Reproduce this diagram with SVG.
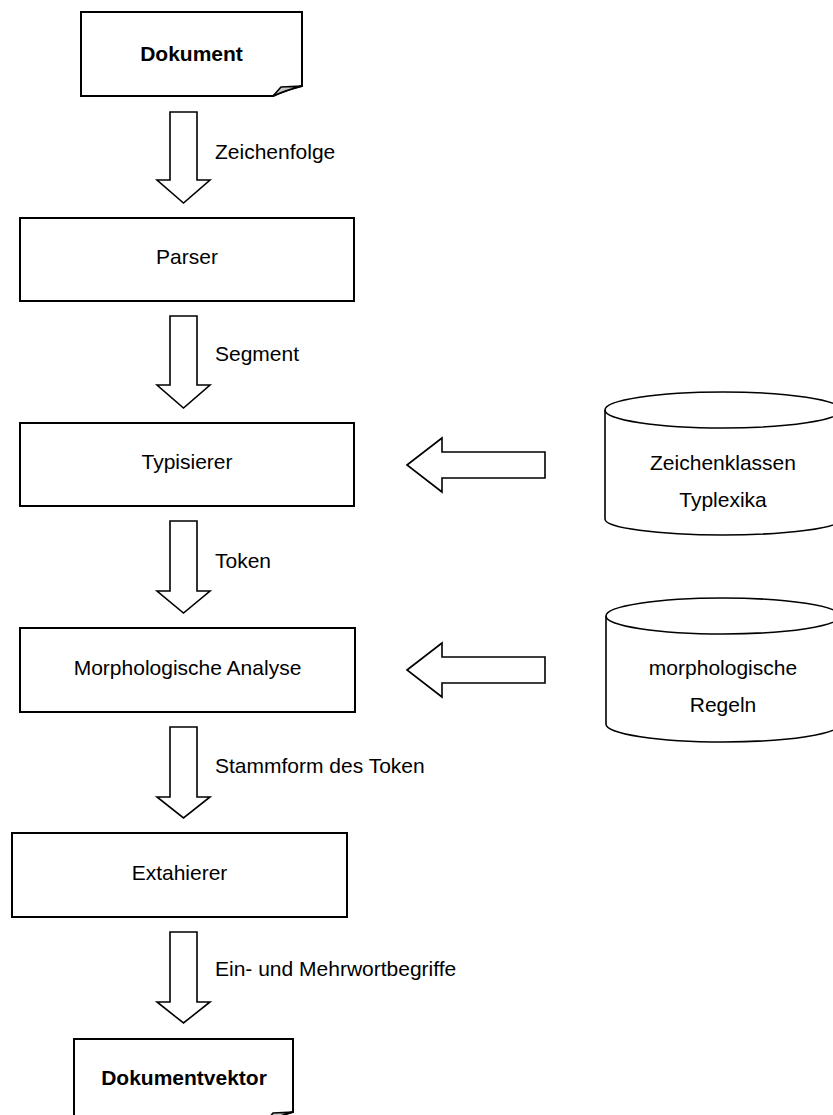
<svg xmlns="http://www.w3.org/2000/svg" width="833" height="1115" viewBox="0 0 833 1115">
  <style>
    .box { fill: #ffffff; stroke: #000000; stroke-width: 2; }
    .arrow { fill: #ffffff; stroke: #000000; stroke-width: 1.6; stroke-linejoin: miter; }
    .cyl { fill: #ffffff; stroke: #000000; stroke-width: 1.6; }
    .flap { fill: #c8c8c8; stroke: #000000; stroke-width: 1.6; stroke-linejoin: round; }
    .txt { font-family: "Liberation Sans", Arial, sans-serif; font-size: 21px; fill: #000000; }
    .c { text-anchor: middle; }
    .b { font-weight: bold; }
  </style>
  <rect width="833" height="1115" fill="#ffffff"/>

  <!-- connectors: block arrows -->
  <g id="connectors">
    <polygon class="arrow" points="170,112 197,112 197,180 210,180 183.5,203 157,180 170,180"/>
    <polygon class="arrow" points="170,316 197,316 197,385 210,385 183.5,408 157,385 170,385"/>
    <polygon class="arrow" points="170,521 197,521 197,591 210,591 183.5,613 157,591 170,591"/>
    <polygon class="arrow" points="170,727 197,727 197,797 210,797 183.5,818 157,797 170,797"/>
    <polygon class="arrow" points="170,932 197,932 197,1002 210,1002 183.5,1023 157,1002 170,1002"/>
    <polygon class="arrow" points="407,465 442,438 442,452 545,452 545,478 442,478 442,492"/>
    <polygon class="arrow" points="407,670 442,643 442,657 545,657 545,683 442,683 442,697"/>
    <text class="txt" x="215" y="159">Zeichenfolge</text>
    <text class="txt" x="215" y="361">Segment</text>
    <text class="txt" x="215" y="568">Token</text>
    <text class="txt" x="215" y="773">Stammform des Token</text>
    <text class="txt" x="215" y="976">Ein- und Mehrwortbegriffe</text>
  </g>

  <!-- input document -->
  <g id="dokument">
    <path class="box" d="M81,12 L302,12 L302,86 Q286,90 273,96 L81,96 Z"/>
    <path class="flap" d="M302,86 L281,87 L273,96 Q286,90 302,86 Z"/>
    <text class="txt b c" x="191.5" y="61">Dokument</text>
  </g>

  <g id="parser">
    <rect class="box" x="20" y="218" width="334" height="83"/>
    <text class="txt c" x="187" y="264">Parser</text>
  </g>

  <g id="typisierer">
    <rect class="box" x="20" y="423" width="334" height="83"/>
    <text class="txt c" x="187" y="469">Typisierer</text>
  </g>

  <g id="morphologie">
    <rect class="box" x="20" y="628" width="335" height="84"/>
    <text class="txt c" x="187.5" y="675">Morphologische Analyse</text>
  </g>

  <g id="extahierer">
    <rect class="box" x="12" y="833" width="335" height="84"/>
    <text class="txt c" x="179.5" y="880">Extahierer</text>
  </g>

  <!-- output document -->
  <g id="dokumentvektor">
    <path class="box" d="M74,1039 L293,1039 L293,1112 Q278,1116 265,1123 L74,1123 Z"/>
    <path class="flap" d="M293,1112 L273,1113 L265,1123 Q278,1116 293,1112 Z"/>
    <text class="txt b c" x="184" y="1085">Dokumentvektor</text>
  </g>

  <!-- knowledge bases -->
  <g id="zeichenklassen">
    <path class="cyl" d="M605,410 A118,18 0 0 1 841,410 L841,519 A118,16 0 0 1 605,519 Z"/>
    <path class="cyl" fill="none" d="M605,410 A118,18 0 0 0 841,410"/>
    <text class="txt c" x="723" y="470">Zeichenklassen</text>
    <text class="txt c" x="723" y="507">Typlexika</text>
  </g>

  <g id="regeln">
    <path class="cyl" d="M606,616 A117,18 0 0 1 840,616 L840,724 A117,18 0 0 1 606,724 Z"/>
    <path class="cyl" fill="none" d="M606,616 A117,18 0 0 0 840,616"/>
    <text class="txt c" x="723" y="675">morphologische</text>
    <text class="txt c" x="723" y="712">Regeln</text>
  </g>
</svg>
